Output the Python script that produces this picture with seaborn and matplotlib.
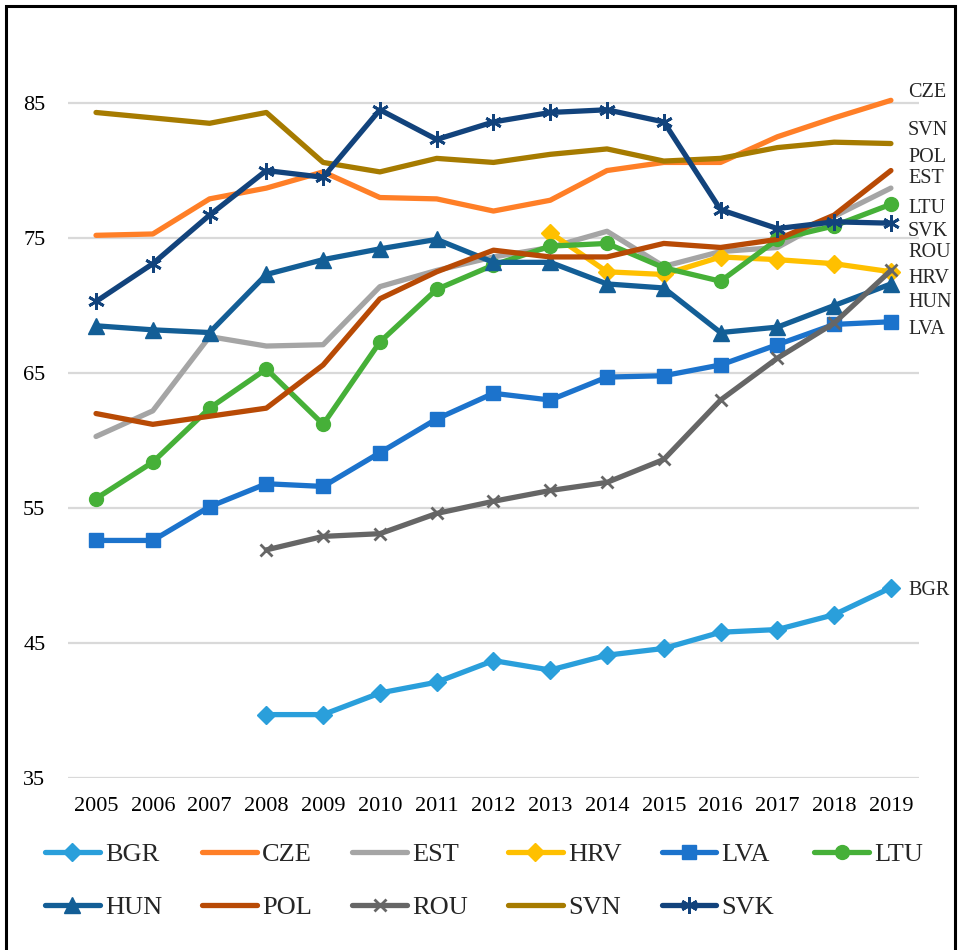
import numpy as np
import pandas as pd
import matplotlib
matplotlib.use("Agg")
import matplotlib.pyplot as plt
from matplotlib.patches import Rectangle
import seaborn as sns

years = list(range(2005, 2020))

BGR = [None, None, None, 39.7, 39.7, 41.3, 42.1, 43.7, 43.0, 44.1, 44.6, 45.8, 46.0, 47.1, 49.1]
CZE = [75.2, 75.3, 77.9, 78.7, 79.9, 78.0, 77.9, 77.0, 77.8, 80.0, 80.6, 80.6, 82.5, 83.9, 85.2]
EST = [60.3, 62.2, 67.7, 67.0, 67.1, 71.4, 72.6, 73.6, 74.3, 75.5, 72.9, 74.0, 74.3, 76.6, 78.7]
HRV = [None, None, None, None, None, None, None, None, 75.4, 72.5, 72.3, 73.6, 73.4, 73.1, 72.5]
LVA = [52.6, 52.6, 55.1, 56.8, 56.6, 59.1, 61.6, 63.5, 63.0, 64.7, 64.8, 65.6, 67.1, 68.6, 68.8]
LTU = [55.7, 58.4, 62.4, 65.3, 61.2, 67.3, 71.2, 73.0, 74.4, 74.6, 72.8, 71.8, 74.9, 75.9, 77.5]
HUN = [68.5, 68.2, 68.0, 72.3, 73.4, 74.2, 74.9, 73.2, 73.2, 71.6, 71.3, 68.0, 68.4, 70.0, 71.6]
POL = [62.0, 61.2, 61.8, 62.4, 65.6, 70.5, 72.5, 74.1, 73.6, 73.6, 74.6, 74.3, 74.9, 76.7, 80.0]
ROU = [None, None, None, 51.9, 52.9, 53.1, 54.6, 55.5, 56.3, 56.9, 58.6, 63.0, 66.1, 68.7, 72.6]
SVN = [84.3, 83.9, 83.5, 84.3, 80.6, 79.9, 80.9, 80.6, 81.2, 81.6, 80.7, 80.9, 81.7, 82.1, 82.0]
SVK = [70.3, 73.1, 76.7, 80.0, 79.5, 84.5, 82.3, 83.6, 84.3, 84.5, 83.6, 77.1, 75.7, 76.2, 76.1]

countries = ["BGR", "CZE", "EST", "HRV", "LVA", "LTU", "HUN", "POL", "ROU", "SVN", "SVK"]
series = {"BGR": BGR, "CZE": CZE, "EST": EST, "HRV": HRV, "LVA": LVA, "LTU": LTU,
          "HUN": HUN, "POL": POL, "ROU": ROU, "SVN": SVN, "SVK": SVK}

colors = {"BGR": "#2A9FDB", "CZE": "#FF7F27", "EST": "#A5A5A5", "HRV": "#FFC000",
          "LVA": "#1C73CC", "LTU": "#46B038", "HUN": "#135E96", "POL": "#B84A05",
          "ROU": "#666666", "SVN": "#A67B00", "SVK": "#12437C"}
markers = {"BGR": "D", "CZE": None, "EST": None, "HRV": "D", "LVA": "s", "LTU": "o",
           "HUN": "^", "POL": None, "ROU": "x", "SVN": None, "SVK": (6, 2, 0)}
msizes = {"BGR": 9, "HRV": 9, "LVA": 10, "LTU": 10, "HUN": 11, "ROU": 9, "SVK": 12}

# end-of-line label positions (value units)
end_labels = {"CZE": 85.8, "SVN": 83.0, "POL": 81.0, "EST": 79.4, "LTU": 77.2,
              "SVK": 75.5, "ROU": 73.9, "HRV": 72.0, "HUN": 70.2, "LVA": 68.2, "BGR": 48.9}

df = pd.DataFrame({"year": years})
for c in countries:
    df[c] = pd.Series(series[c], dtype="float")

sns.set_style("white")
plt.rcParams["font.family"] = ["Liberation Serif", "DejaVu Serif"]

fig = plt.figure(figsize=(9.58, 9.5), dpi=100)
ax = fig.add_axes([0.0706, 0.181, 0.889, 0.7816])

handles = {}
for c in countries:
    m = markers[c]
    kw = dict(lw=3.8, color=colors[c], ax=ax, label=c)
    if m is not None:
        kw.update(marker=m, markersize=msizes[c], markeredgecolor=colors[c],
                  markerfacecolor=colors[c], markeredgewidth=2 if m in ("x", (6, 2, 0)) else 1)
    sns.lineplot(data=df, x="year", y=c, **kw)
    handles[c] = ax.lines[-1]

ax.set_xlim(2004.5, 2019.5)
ax.set_ylim(35, 90)
ax.set_yticks([35, 45, 55, 65, 75, 85])
ax.set_xticks(years)
ax.grid(axis="y", color="#D9D9D9", lw=1.6)
ax.set_axisbelow(True)
for s in ax.spines.values():
    s.set_visible(False)
ax.tick_params(axis="both", length=0, labelsize=16, colors="#000000")
ax.tick_params(axis="y", pad=16)
ax.tick_params(axis="x", pad=14)
ax.set_xlabel("")
ax.set_ylabel("")
if ax.get_legend() is not None:
    ax.get_legend().remove()

for c, yv in end_labels.items():
    ax.text(2019.3, yv, c, fontsize=14.5, ha="left", va="center", clip_on=False)

order = ["BGR", "HUN", "CZE", "POL", "EST", "ROU", "HRV", "SVN", "LVA", "SVK", "LTU"]
fig.legend([handles[c] for c in order], order, loc="upper left",
           bbox_to_anchor=(45 / 958, 1 - 843 / 950), ncol=6, frameon=False,
           fontsize=19, handlelength=2.08, handletextpad=0.19, columnspacing=1.52,
           borderpad=0, borderaxespad=0, labelspacing=1.12)

fig.add_artist(Rectangle((6 / 958, -0.1), 949 / 958, 1.1 - 6 / 950, transform=fig.transFigure,
                         fill=False, edgecolor="black", lw=2.2))

fig.savefig("out.png", dpi=100)
